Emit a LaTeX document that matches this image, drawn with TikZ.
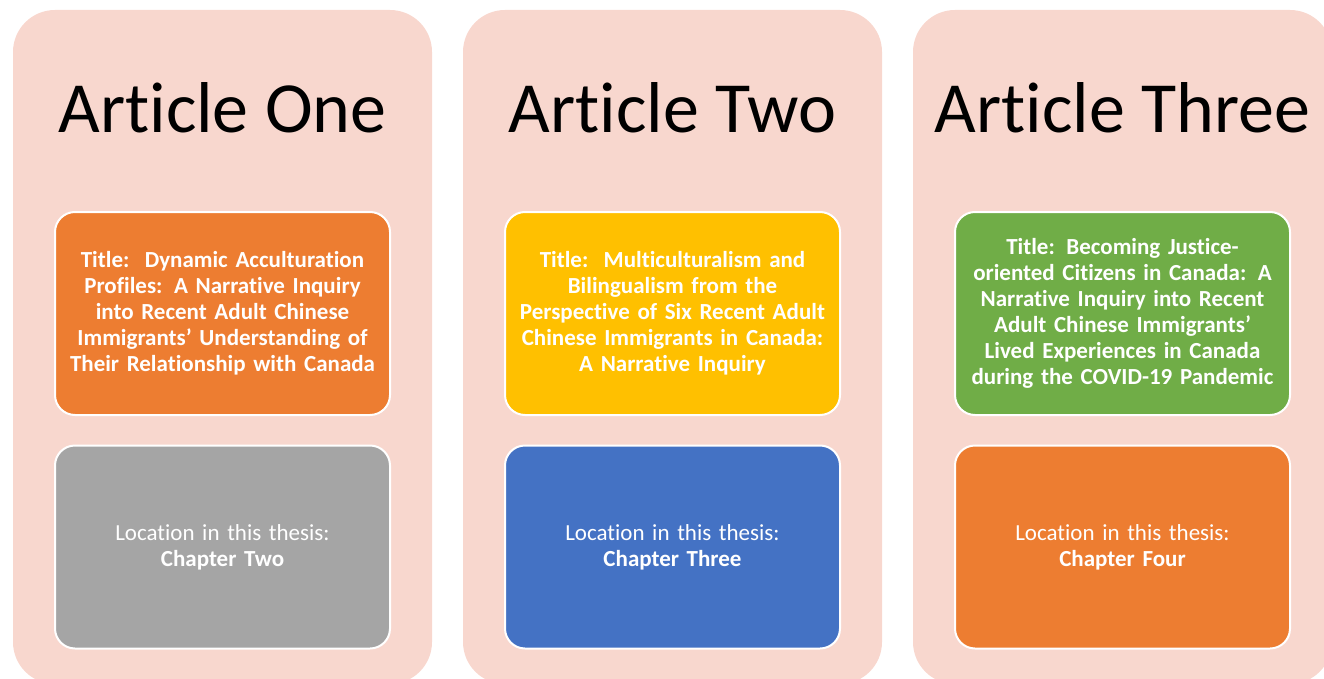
\documentclass[tikz,border=0pt]{standalone}
\usepackage{fontspec}
\setmainfont[RawFeature=-liga]{Carlito}
\definecolor{pinkbg}{HTML}{F8D7CE}
\definecolor{aorange}{HTML}{ED7D31}
\definecolor{agrey}{HTML}{A5A5A5}
\definecolor{ayellow}{HTML}{FFC000}
\definecolor{ablue}{HTML}{4472C4}
\definecolor{agreen}{HTML}{70AD47}
\tikzset{
  panel/.style={fill=pinkbg, draw=none, rounded corners=42pt},
  inner/.style={draw=white, line width=2pt, rounded corners=20pt, minimum width=335pt, minimum height=203pt, text width=330pt, align=center, text=white, font=\fontsize{23}{26}\selectfont, inner sep=0pt},
  heading/.style={font=\fontsize{72}{80}\selectfont, anchor=base, inner sep=0pt}
}
\begin{document}
\begin{tikzpicture}[x=1pt,y=-1pt]
\useasboundingbox (0,0) rectangle (1324,679);
\clip (0,0) rectangle (1324,679);
\fill[panel] (13,10) rectangle (432,684);
\fill[panel] (463,10) rectangle (882,684);
\fill[panel] (913,10) rectangle (1332,684);
\node[heading] (h1) at (222.5,133) {Article One};
\node[heading] (h2) at (672.5,133) {Article Two};
\node[heading] (h3) at (1122.5,133) {Article Three};
\node[inner, fill=aorange] (t1) at (222.5,313.5) {\bfseries Title:\ \ Dynamic Acculturation\\Profiles: A Narrative Inquiry\\into Recent Adult Chinese\\Immigrants’ Understanding of\\Their Relationship with Canada};
\node[inner, fill=ayellow] (t2) at (672.5,313.5) {\bfseries Title:\ \ Multiculturalism and\\Bilingualism from the\\Perspective of Six Recent Adult\\Chinese Immigrants in Canada:\\A Narrative Inquiry};
\node[inner, fill=agreen] (t3) at (1122.5,313.5) {\bfseries Title: Becoming Justice-\\oriented Citizens in Canada: A\\Narrative Inquiry into Recent\\Adult Chinese Immigrants’\\Lived Experiences in Canada\\during the COVID-19 Pandemic};
\node[inner, fill=agrey] (l1) at (222.5,547) {Location in this thesis:\\\textbf{Chapter Two}};
\node[inner, fill=ablue] (l2) at (672.5,547) {Location in this thesis:\\\textbf{Chapter Three}};
\node[inner, fill=aorange] (l3) at (1122.5,547) {Location in this thesis:\\\textbf{Chapter Four}};
\end{tikzpicture}
\end{document}
